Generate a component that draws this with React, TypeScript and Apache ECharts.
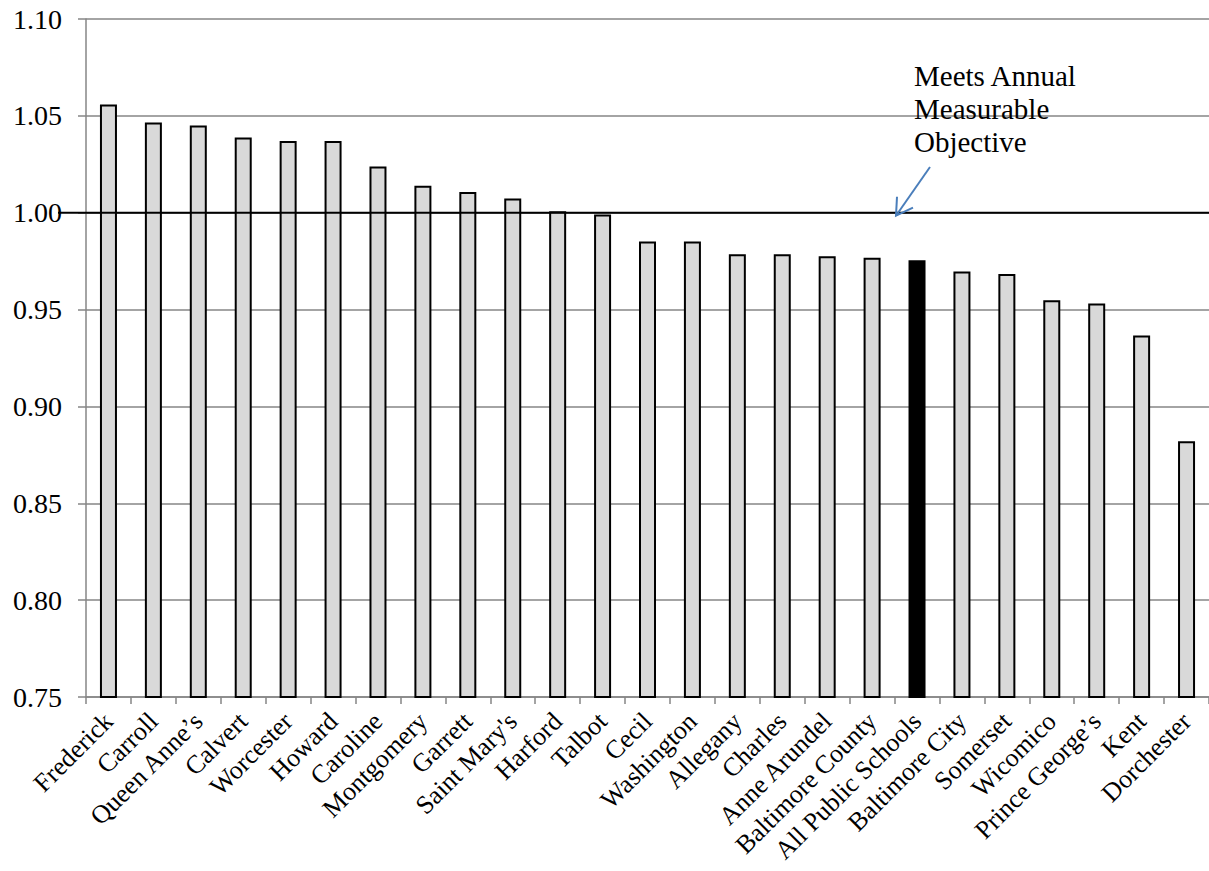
import React, { useEffect, useRef } from "react";
import * as echarts from "echarts";

const categories = [
  "Frederick", "Carroll", "Queen Anne’s", "Calvert", "Worcester", "Howard",
  "Caroline", "Montgomery", "Garrett", "Saint Mary's", "Harford", "Talbot",
  "Cecil", "Washington", "Allegany", "Charles", "Anne Arundel",
  "Baltimore County", "All Public Schools", "Baltimore City", "Somerset",
  "Wicomico", "Prince George’s", "Kent", "Dorchester",
];
const values = [
  1.0558, 1.0466, 1.045, 1.0388, 1.037, 1.037, 1.0239, 1.0139, 1.0107, 1.0074,
  1.0007, 0.9991, 0.9852, 0.9852, 0.9785, 0.9785, 0.9775, 0.9768, 0.9754,
  0.9696, 0.9684, 0.9548, 0.9531, 0.9366, 0.882,
];
const highlightCategory = "All Public Schools";
const targetValue = 1.0;
const annotationText = "Meets Annual\nMeasurable\nObjective";
const yMin = 0.75;
const yMax = 1.1;
const yStep = 0.05;

const FONT = "'Liberation Serif', 'Times New Roman', serif";

export default function App() {
  const ref = useRef<HTMLDivElement>(null);
  useEffect(() => {
    if (!ref.current) return;
    const chart = echarts.init(ref.current, null, { renderer: "svg" });
    chart.setOption({
      animation: false,
      backgroundColor: "#fff",
      textStyle: { fontFamily: FONT, color: "#000" },
      grid: {
        left: 86,
        right: 0,
        top: 19,
        bottom: 174,
        containLabel: false,
        outerBoundsMode: "none",
      },
      xAxis: {
        type: "category",
        data: categories,
        axisLine: { lineStyle: { color: "#868686", width: 1.5 } },
        axisTick: { show: true, length: 7, lineStyle: { color: "#868686", width: 1.5 } },
        axisLabel: {
          interval: 0,
          rotate: 45,
          margin: 20,
          fontSize: 26,
          fontFamily: FONT,
          color: "#000",
        },
      },
      yAxis: {
        type: "value",
        min: yMin,
        max: yMax,
        interval: yStep,
        axisLine: { show: true, lineStyle: { color: "#868686", width: 1.5 } },
        axisTick: { show: true, length: 8, lineStyle: { color: "#868686", width: 1.5 } },
        splitLine: { lineStyle: { color: "#868686", width: 1.5 } },
        axisLabel: {
          formatter: (v: number) => v.toFixed(2),
          fontSize: 28,
          fontFamily: FONT,
          color: "#000",
          margin: 24,
        },
      },
      series: [
        {
          type: "bar",
          barWidth: 17,
          data: categories.map((c, i) => ({
            value: values[i],
            itemStyle: {
              color: c === highlightCategory ? "#000" : "#d9d9d9",
              borderColor: "#000",
              borderWidth: 2,
            },
          })),
        },
      ],
    });
    const yT = chart.convertToPixel({ yAxisIndex: 0 }, targetValue) as number;
    const w = chart.getWidth();
    chart.setOption({
      graphic: [
        {
          type: "line",
          z: 100,
          shape: { x1: 58, y1: yT, x2: w, y2: yT },
          style: { stroke: "#000", lineWidth: 2 },
        },
        {
          type: "text",
          z: 100,
          x: 914,
          y: 59,
          style: {
            text: annotationText,
            fontSize: 29,
            fontFamily: FONT,
            fill: "#000",
            lineHeight: 33,
            verticalAlign: "top",
          },
        },
        {
          type: "line",
          z: 101,
          shape: { x1: 930, y1: 167, x2: 896, y2: yT + 3 },
          style: { stroke: "#4A7EBB", lineWidth: 2 },
        },
        {
          type: "polyline",
          z: 101,
          shape: {
            points: [
              [897, yT - 16],
              [896, yT + 3],
              [913, yT - 5],
            ],
          },
          style: { stroke: "#4A7EBB", lineWidth: 2, fill: "none" },
        },
      ],
    });
    return () => chart.dispose();
  }, []);
  return (
    <div
      ref={ref}
      style={{ position: "absolute", left: 0, top: 0, width: 1209, height: 871 }}
    />
  );
}
